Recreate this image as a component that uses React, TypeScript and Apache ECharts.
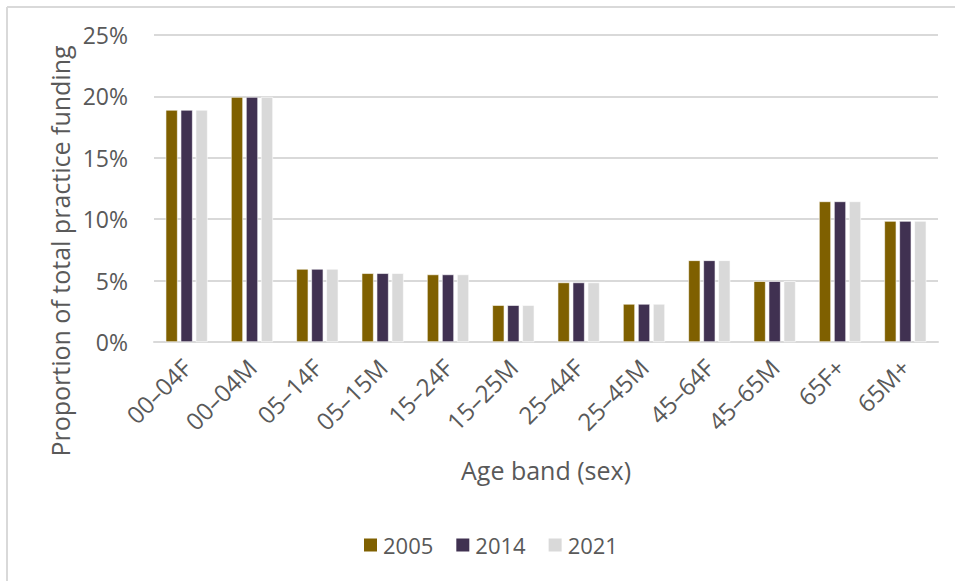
import React, { useEffect, useRef } from "react";
import * as echarts from "echarts";

const categories = [
  "00–04F", "00–04M", "05–14F", "05–15M", "15–24F", "15–25M",
  "25–44F", "25–45M", "45–64F", "45–65M", "65F+", "65M+",
];

const years = ["2005", "2014", "2021"];

const share2005 = [18.9, 19.95, 5.95, 5.6, 5.5, 3.0, 4.85, 3.1, 6.65, 4.95, 11.45, 9.85];
const share2014 = [18.9, 19.95, 5.95, 5.6, 5.5, 3.0, 4.85, 3.1, 6.65, 4.95, 11.45, 9.85];
const share2021 = [18.9, 19.95, 5.95, 5.6, 5.5, 3.0, 4.85, 3.1, 6.65, 4.95, 11.45, 9.85];

const yTicks = { min: 0, max: 25, interval: 5 };

const colors = ["#7F6000", "#403151", "#D9D9D9"];
const textColor = "#595959";
const gridColor = "#D9D9D9";
const font = "'Open Sans', 'Noto Sans', sans-serif";

export default function App() {
  const ref = useRef<HTMLDivElement>(null);

  useEffect(() => {
    if (!ref.current) return;
    const chart = echarts.init(ref.current, undefined, { renderer: "svg" });
    const seriesData = [share2005, share2014, share2021];

    chart.setOption({
      animation: false,
      backgroundColor: "#ffffff",
      textStyle: { fontFamily: font, color: textColor },
      grid: { left: 154, right: 17, top: 35, bottom: 239, containLabel: false },
      legend: {
        data: years,
        left: 357,
        top: 529,
        itemWidth: 15,
        itemHeight: 15,
        itemGap: 21,
        icon: "rect",
        textStyle: { fontSize: 22, color: textColor, fontFamily: font },
      },
      xAxis: {
        type: "category",
        data: categories,
        axisLine: { lineStyle: { color: gridColor, width: 2 } },
        axisTick: { show: false },
        axisLabel: {
          rotate: 45,
          margin: 21,
          fontSize: 24,
          color: textColor,
          fontFamily: font,
          interval: 0,
        },
      },
      yAxis: {
        type: "value",
        min: yTicks.min,
        max: yTicks.max,
        interval: yTicks.interval,
        axisLine: { show: false },
        axisTick: { show: false },
        splitLine: { lineStyle: { color: gridColor, width: 2 } },
        axisLabel: {
          formatter: "{value}%",
          fontSize: 23,
          margin: 26,
          color: textColor,
          fontFamily: font,
        },
      },
      series: years.map((y, i) => ({
        name: y,
        type: "bar",
        data: seriesData[i],
        barWidth: 12,
        barGap: "25%",
        itemStyle: { color: colors[i], borderColor: "#ffffff", borderWidth: 0.6 },
      })),
      graphic: [
        {
          type: "line",
          shape: { x1: 7, y1: 7, x2: 955, y2: 7 },
          style: { stroke: gridColor, lineWidth: 2 },
        },
        {
          type: "line",
          shape: { x1: 7, y1: 7, x2: 7, y2: 581 },
          style: { stroke: gridColor, lineWidth: 2 },
        },
        {
          type: "text",
          x: 60,
          y: 251,
          rotation: Math.PI / 2,
          style: {
            text: "Proportion of total practice funding",
            fontSize: 25,
            fontFamily: font,
            fill: textColor,
            align: "center",
            verticalAlign: "middle",
          },
        },
        {
          type: "text",
          x: 546,
          y: 470,
          style: {
            text: "Age band (sex)",
            fontSize: 25,
            fontFamily: font,
            fill: textColor,
            align: "center",
            verticalAlign: "middle",
          },
        },
      ],
    });

    return () => chart.dispose();
  }, []);

  return (
    <div
      ref={ref}
      style={{ position: "absolute", left: 0, top: 0, width: 955, height: 581 }}
    />
  );
}
